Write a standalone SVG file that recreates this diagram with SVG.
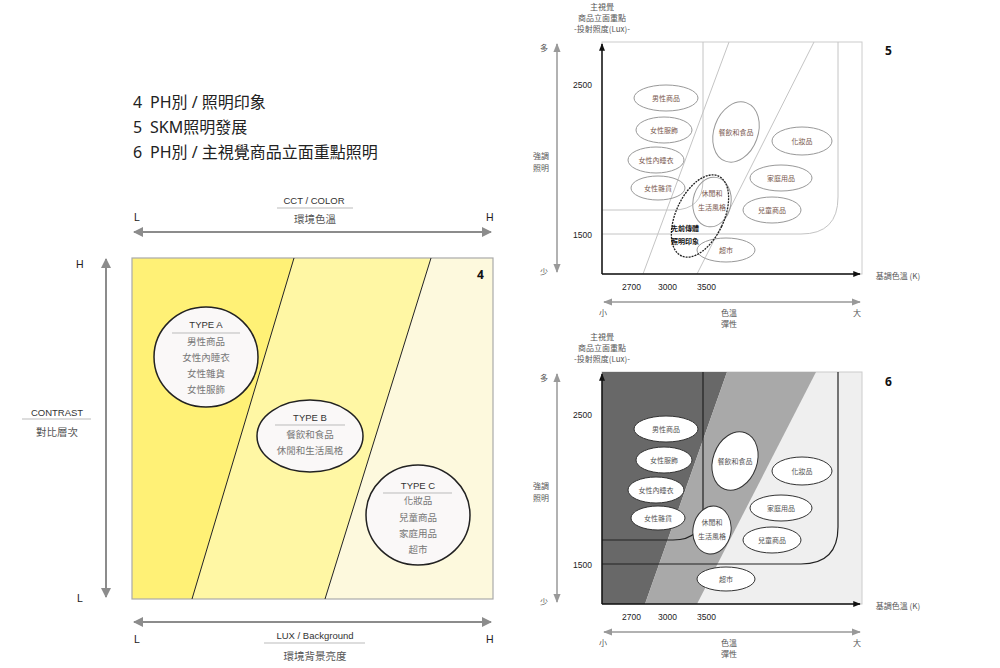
<svg xmlns="http://www.w3.org/2000/svg" width="1000" height="668" viewBox="0 0 1000 668">
<style>
.t{font-family:"Noto Sans","Noto Sans CJK TC",sans-serif;fill:#222}
.s{font-family:"Liberation Sans","Noto Sans CJK TC",sans-serif}
.lbl{font-family:"Liberation Sans",sans-serif;font-size:10.5px;fill:#222}
.cap{font-family:"Liberation Sans",sans-serif;font-size:9.5px;fill:#333;text-anchor:middle}
.zh{font-family:"Noto Sans CJK TC",sans-serif;font-size:10.5px;fill:#555;text-anchor:middle}
.it{font-family:"Noto Sans CJK TC",sans-serif;font-size:9.5px;fill:#777;text-anchor:middle}
.ul{stroke:#bbb;stroke-width:1}
.big{stroke:#8c8c8c;stroke-width:2;fill:none}
.tn{fill:#faf8f8;stroke:#222;stroke-width:1.5}
.r8{font-family:"Liberation Sans",sans-serif;font-size:8.5px;fill:#222}
.rz{font-family:"Noto Sans CJK TC",sans-serif;font-size:8px;fill:#555;text-anchor:middle}
.ez{font-family:"Noto Sans CJK TC",sans-serif;font-size:7px;fill:#7a5a50;text-anchor:middle}
.ez2{font-family:"Noto Sans CJK TC",sans-serif;font-size:7px;fill:#555;text-anchor:middle}
.e1{fill:none;stroke:#999;stroke-width:1}
.e2{fill:#fff;stroke:#333;stroke-width:1}
.ax{stroke:#111;stroke-width:1.5;fill:none}
.ga{stroke:#999;stroke-width:1.5;fill:none}
</style>
<defs>
<marker id="ah" viewBox="0 0 10 10" refX="9" refY="5" markerWidth="5" markerHeight="5" orient="auto-start-reverse"><path d="M0,0 L10,5 L0,10 z" fill="#8c8c8c"/></marker>
<marker id="ahs" viewBox="0 0 10 10" refX="9" refY="5" markerWidth="6" markerHeight="6" orient="auto-start-reverse"><path d="M0,1 L10,5 L0,9 z" fill="#999"/></marker>
<marker id="ahb" viewBox="0 0 10 10" refX="9" refY="5" markerWidth="5" markerHeight="5" orient="auto"><path d="M0,1 L10,5 L0,9 z" fill="#111"/></marker>
</defs>
<rect width="1000" height="668" fill="#fff"/>

<!-- titles -->
<g id="title">
<text class="t" x="133" y="108" font-size="16">4</text><text class="t" x="150" y="108" font-size="16">PH別 / 照明印象</text>
<text class="t" x="133" y="133" font-size="16">5</text><text class="t" x="150" y="133" font-size="16">SKM照明發展</text>
<text class="t" x="133" y="158" font-size="16">6</text><text class="t" x="150" y="158" font-size="16">PH別 / 主視覺商品立面重點照明</text>
</g>

<!-- left chart -->
<g id="chart4">
<polygon points="132,258 294,258 192,599 132,599" fill="#fff176"/>
<polygon points="294,258 431,258 325,599 192,599" fill="#fff7a4"/>
<polygon points="431,258 493,258 493,599 325,599" fill="#fdf9dd"/>
<rect x="132" y="258" width="361" height="341" fill="none" stroke="#aaa" stroke-width="1.2"/>
<line x1="294" y1="258" x2="192" y2="599" stroke="#222" stroke-width="1"/>
<line x1="431" y1="258" x2="325" y2="599" stroke="#222" stroke-width="1"/>
<text x="477" y="279" font-family="Noto Sans,sans-serif" font-size="12" font-weight="bold" fill="#111">4</text>
</g>

<g id="connectors">
<line class="big" x1="134" y1="232" x2="491" y2="232" marker-start="url(#ah)" marker-end="url(#ah)"/>
<line class="big" x1="106" y1="259" x2="106" y2="597" marker-start="url(#ah)" marker-end="url(#ah)"/>
<line class="big" x1="134" y1="622" x2="491" y2="622" marker-start="url(#ah)" marker-end="url(#ah)"/>
<line class="ga" x1="557" y1="44" x2="557" y2="272" marker-start="url(#ahs)" marker-end="url(#ahs)"/>
<line class="ga" x1="604" y1="302" x2="860" y2="302" marker-start="url(#ahs)" marker-end="url(#ahs)"/>
<line class="ga" x1="557" y1="374" x2="557" y2="602" marker-start="url(#ahs)" marker-end="url(#ahs)"/>
<line class="ga" x1="604" y1="632" x2="860" y2="632" marker-start="url(#ahs)" marker-end="url(#ahs)"/>
</g>

<g id="axis-labels-4">
<text class="lbl" x="134" y="221">L</text>
<text class="lbl" x="486" y="221">H</text>
<text class="cap" x="314" y="204">CCT / COLOR</text>
<line class="ul" x1="277" y1="208" x2="353" y2="208"/>
<text class="zh" x="315" y="223">環境色溫</text>
<text class="lbl" x="76" y="268">H</text>
<text class="lbl" x="77" y="602">L</text>
<text class="cap" x="57" y="416">CONTRAST</text>
<line class="ul" x1="22" y1="419" x2="91" y2="419"/>
<text class="zh" x="57" y="436">對比層次</text>
<text class="lbl" x="134" y="643">L</text>
<text class="lbl" x="486" y="643">H</text>
<text class="cap" x="315" y="639">LUX / Background</text>
<line class="ul" x1="264" y1="643" x2="365" y2="643"/>
<text class="zh" x="315" y="660">環境背景亮度</text>
</g>

<g id="typeA">
<ellipse class="tn" cx="206" cy="357" rx="52" ry="50"/>
<text class="cap" x="206" y="328" font-size="10">TYPE A</text>
<line class="ul" x1="172" y1="333" x2="240" y2="333"/>
<text class="it" x="206" y="345">男性商品</text>
<text class="it" x="206" y="361">女性內睡衣</text>
<text class="it" x="206" y="377">女性雜貨</text>
<text class="it" x="206" y="393">女性服飾</text>
</g>
<g id="typeB">
<ellipse class="tn" cx="310" cy="436" rx="53" ry="36"/>
<text class="cap" x="310" y="421" font-size="10">TYPE B</text>
<line class="ul" x1="275" y1="425" x2="345" y2="425"/>
<text class="it" x="310" y="438">餐飲和食品</text>
<text class="it" x="310" y="454">休閒和生活風格</text>
</g>
<g id="typeC">
<ellipse class="tn" cx="418" cy="515" rx="52" ry="50"/>
<text class="cap" x="418" y="489" font-size="10">TYPE C</text>
<line class="ul" x1="383" y1="493" x2="452" y2="493"/>
<text class="it" x="418" y="504">化妝品</text>
<text class="it" x="418" y="521">兒童商品</text>
<text class="it" x="418" y="537">家庭用品</text>
<text class="it" x="418" y="553">超市</text>
</g>

<!-- chart 5 -->
<g id="chart5">
<rect x="602" y="42" width="260" height="232" fill="#fff" stroke="#ccc" stroke-width="1"/>
<line x1="643" y1="274" x2="729" y2="42" stroke="#c4c4c4" stroke-width="1"/>
<line x1="697" y1="274" x2="814" y2="42" stroke="#c4c4c4" stroke-width="1"/>
<path d="M602,210 H673 Q703,210 703,180 V42" fill="none" stroke="#c4c4c4" stroke-width="1"/>
<path d="M602,234 H801 Q838,234 838,197 V42" fill="none" stroke="#c4c4c4" stroke-width="1"/>
<line class="ax" x1="602" y1="274" x2="602" y2="44" marker-end="url(#ahb)"/>
<line class="ax" x1="602" y1="274" x2="860" y2="274" marker-end="url(#ahb)"/>
<text class="rz" x="602" y="10">主視覺</text>
<text class="rz" x="602" y="21">商品立面重點</text>
<text class="rz" x="602" y="32">-投射照度(Lux)-</text>
<text class="rz" x="544" y="51">多</text>
<text class="rz" x="544" y="275">少</text>
<text class="rz" x="541" y="159">強調</text>
<text class="rz" x="541" y="171">照明</text>
<text class="r8" x="573" y="88">2500</text>
<text class="r8" x="573" y="238">1500</text>
<text class="r8" x="622" y="290">2700</text>
<text class="r8" x="658" y="290">3000</text>
<text class="r8" x="697" y="290">3500</text>
<text class="rz" x="603" y="316">小</text>
<text class="rz" x="729" y="316">色溫</text>
<text class="rz" x="729" y="327">彈性</text>
<text class="rz" x="857" y="316">大</text>
<text class="rz" x="898" y="279">基調色溫 (K)</text>
<text x="885" y="55" font-family="Noto Sans,sans-serif" font-size="12" font-weight="bold" fill="#111">5</text>
</g>
<g id="c5-nodes">
<g id="c5-n1"><ellipse class="e1" cx="666" cy="98" rx="32" ry="13"/><text class="ez" x="666" y="100.5">男性商品</text></g>
<g id="c5-n2"><ellipse class="e1" cx="664" cy="130" rx="28" ry="13"/><text class="ez" x="664" y="132.5">女性服飾</text></g>
<g id="c5-n3"><ellipse class="e1" cx="656" cy="160" rx="28" ry="13"/><text class="ez" x="656" y="162.5">女性內睡衣</text></g>
<g id="c5-n4"><ellipse class="e1" cx="658" cy="188" rx="27" ry="12"/><text class="ez" x="658" y="190.5">女性雜貨</text></g>
<g id="c5-n5"><ellipse class="e1" cx="736" cy="132" rx="22" ry="31" transform="rotate(20 736 132)"/><text class="ez" x="736" y="134.5">餐飲和食品</text></g>
<g id="c5-n6"><ellipse class="e1" cx="802" cy="141" rx="30" ry="14"/><text class="ez" x="802" y="143.5">化妝品</text></g>
<g id="c5-n7"><ellipse class="e1" cx="781" cy="178" rx="31" ry="13"/><text class="ez" x="781" y="180.5">家庭用品</text></g>
<g id="c5-n8"><ellipse class="e1" cx="772" cy="210" rx="29" ry="13"/><text class="ez" x="772" y="212.5">兒童商品</text></g>
<g id="c5-n9"><ellipse class="e1" cx="712" cy="202" rx="19" ry="25" transform="rotate(10 712 202)"/><text class="ez" x="712" y="195.5">休閒和</text><text class="ez" x="712" y="209.5">生活風格</text></g>
<g id="c5-n10"><ellipse class="e1" cx="726" cy="250" rx="29" ry="12"/><text class="ez" x="726" y="252.5">超市</text></g>
<g id="c5-n11"><ellipse cx="700" cy="216" rx="24" ry="44" transform="rotate(25 700 216)" fill="none" stroke="#222" stroke-width="1.3" stroke-dasharray="2,1"/><text x="685" y="231" font-family="Noto Sans CJK TC,sans-serif" font-size="7" fill="#111" text-anchor="middle" font-weight="bold">先前傳體</text><text x="685" y="244" font-family="Noto Sans CJK TC,sans-serif" font-size="7" fill="#111" text-anchor="middle" font-weight="bold">照明印象</text></g>
</g>

<!-- chart 6 -->
<g id="chart6">
<rect x="602" y="372" width="260" height="232" fill="#efefef" stroke="#ccc" stroke-width="1"/>
<polygon points="602,372 727,372 645,604 602,604" fill="#686868"/>
<polygon points="727,372 816,372 697,604 645,604" fill="#a9a9a9"/>
<path d="M602,540 H673 Q703,540 703,510 V372" fill="none" stroke="#222" stroke-width="1.2"/>
<path d="M602,564 H801 Q838,564 838,527 V372" fill="none" stroke="#222" stroke-width="1.2"/>
<line class="ax" x1="602" y1="604" x2="602" y2="374" marker-end="url(#ahb)"/>
<line class="ax" x1="602" y1="604" x2="860" y2="604" marker-end="url(#ahb)"/>
<text class="rz" x="602" y="340">主視覺</text>
<text class="rz" x="602" y="351">商品立面重點</text>
<text class="rz" x="602" y="362">-投射照度(Lux)-</text>
<text class="rz" x="544" y="381">多</text>
<text class="rz" x="544" y="605">少</text>
<text class="rz" x="541" y="489">強調</text>
<text class="rz" x="541" y="501">照明</text>
<text class="r8" x="573" y="418">2500</text>
<text class="r8" x="573" y="568">1500</text>
<text class="r8" x="622" y="620">2700</text>
<text class="r8" x="658" y="620">3000</text>
<text class="r8" x="697" y="620">3500</text>
<text class="rz" x="603" y="646">小</text>
<text class="rz" x="729" y="646">色溫</text>
<text class="rz" x="729" y="657">彈性</text>
<text class="rz" x="857" y="646">大</text>
<text class="rz" x="898" y="609">基調色溫 (K)</text>
<text x="885" y="386" font-family="Noto Sans,sans-serif" font-size="12" font-weight="bold" fill="#111">6</text>
</g>
<g id="c6-nodes">
<g id="c6-n1"><ellipse class="e2" cx="666" cy="429" rx="32" ry="13"/><text class="ez2" x="666" y="431.5">男性商品</text></g>
<g id="c6-n2"><ellipse class="e2" cx="664" cy="460" rx="28" ry="13"/><text class="ez2" x="664" y="462.5">女性服飾</text></g>
<g id="c6-n3"><ellipse class="e2" cx="656" cy="490" rx="28" ry="13"/><text class="ez2" x="656" y="492.5">女性內睡衣</text></g>
<g id="c6-n4"><ellipse class="e2" cx="658" cy="518" rx="27" ry="12"/><text class="ez2" x="658" y="520.5">女性雜貨</text></g>
<g id="c6-n5"><ellipse class="e2" cx="735" cy="461" rx="22" ry="30" transform="rotate(20 735 461)"/><text class="ez2" x="735" y="463.5">餐飲和食品</text></g>
<g id="c6-n6"><ellipse class="e2" cx="802" cy="471" rx="30" ry="14"/><text class="ez2" x="802" y="473.5">化妝品</text></g>
<g id="c6-n7"><ellipse class="e2" cx="781" cy="508" rx="31" ry="13"/><text class="ez2" x="781" y="510.5">家庭用品</text></g>
<g id="c6-n8"><ellipse class="e2" cx="772" cy="540" rx="29" ry="13"/><text class="ez2" x="772" y="542.5">兒童商品</text></g>
<g id="c6-n9"><ellipse class="e2" cx="712" cy="530" rx="19" ry="24" transform="rotate(10 712 530)"/><text class="ez2" x="712" y="524.5">休閒和</text><text class="ez2" x="712" y="538.5">生活風格</text></g>
<g id="c6-n10"><ellipse class="e2" cx="726" cy="579" rx="29" ry="12"/><text class="ez2" x="726" y="581.5">超市</text></g>
</g>
</svg>
